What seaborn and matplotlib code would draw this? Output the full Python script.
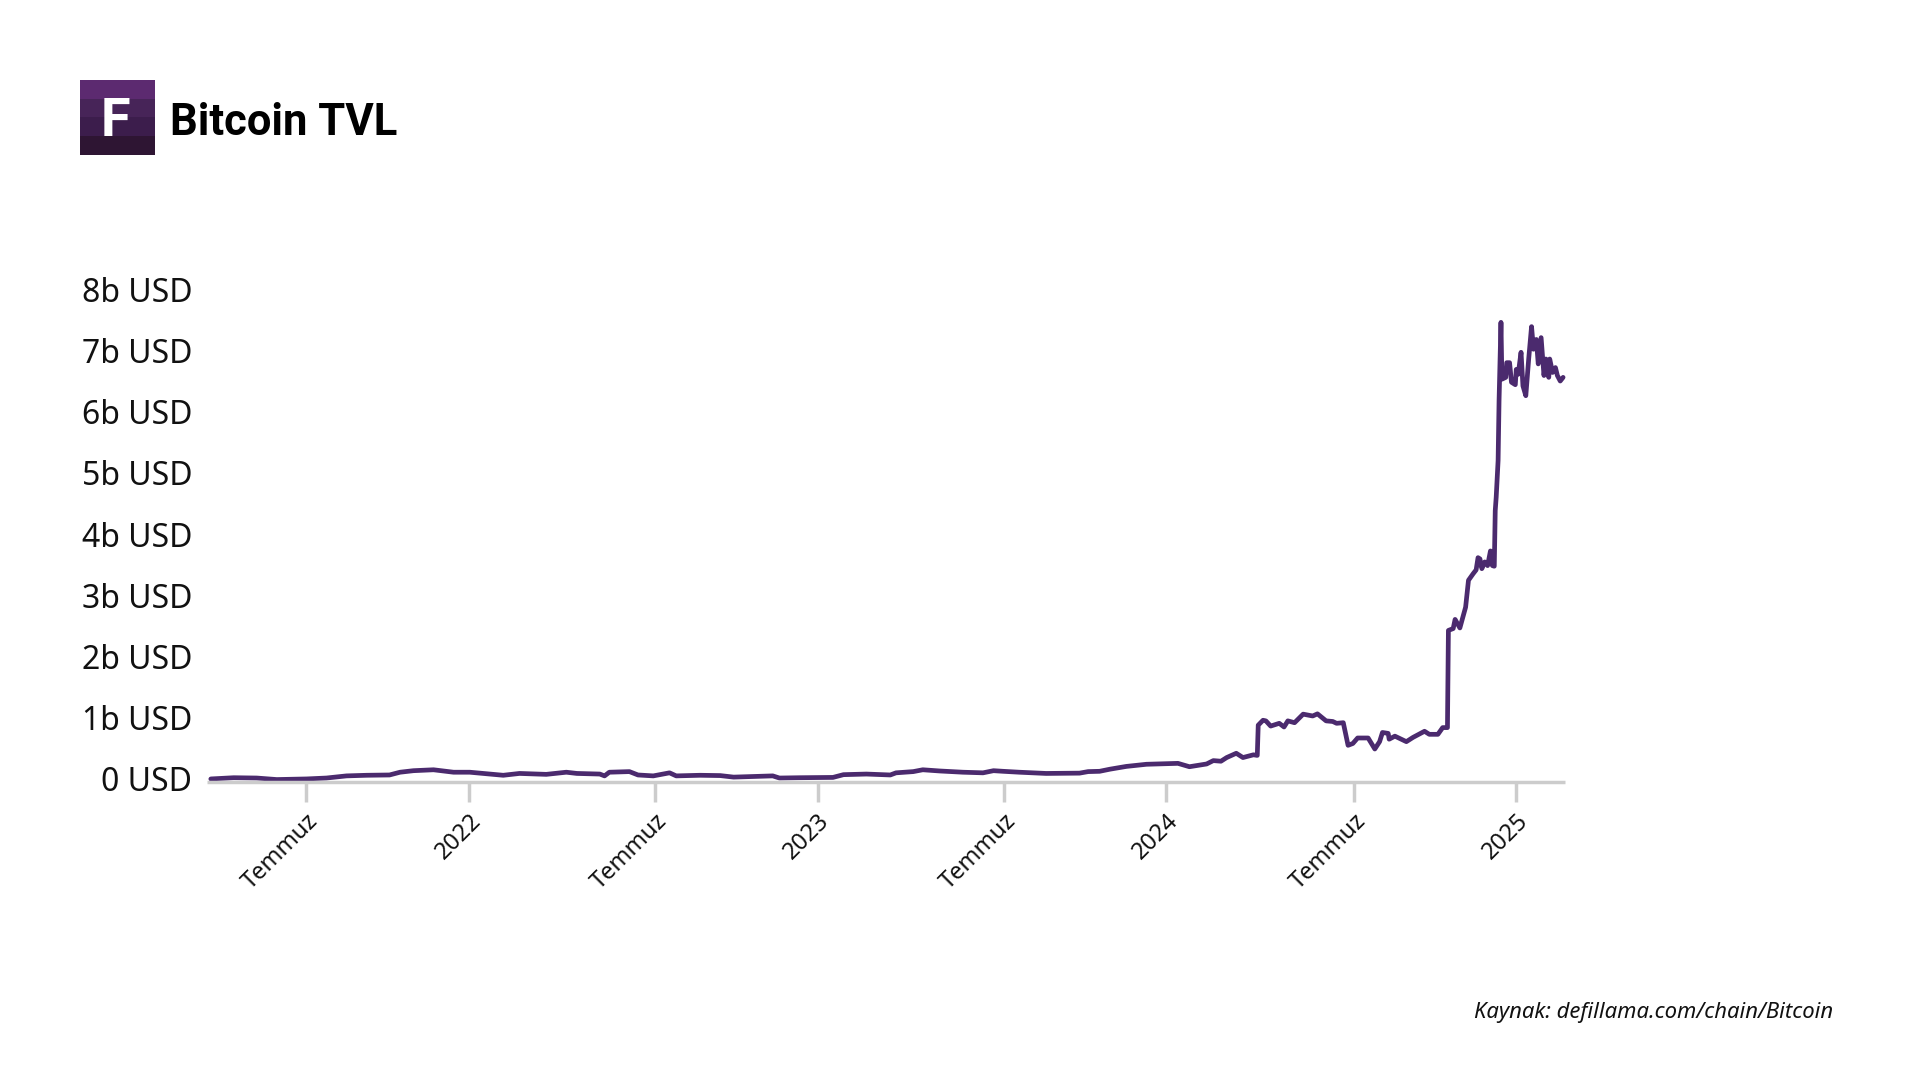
import matplotlib
matplotlib.use("Agg")
import matplotlib.pyplot as plt
from matplotlib.patches import Rectangle
from matplotlib.transforms import ScaledTranslation
import pandas as pd
import seaborn as sns

# days since 2021-04-02
days = [4,28,52,73,104,125,146,167,191,202,216,237,258,275,296,310,327,345,355,376,387,411,416,421,442,451,467,484,491,516,
        537,551,592,599,620,655,666,690,715,721,739,749,767,791,812,823,833,850,878,913,922,934,945,962,983,1016,1028,1046,
        1053,1061,1067,1077,1084,1095,1099,1100,1105,1108,1113,1122,1127,1131,1138,1147,1157,1162,1171,1178,1182,1189,1194,
        1199,1204,1215,1222,1227,1230,1236,1237,1243,1255,1262,1274,1279,1288,1293,1298,1299,1304,1306,1311,1317,1320,1325,
        1328,1330,1332,1334,1337,1340,1343,1345,1347,1348,1349,1351,1352,1354,1355,1359,1360,1363,1365,1369,1370,1372,1375,
        1377,1380,1383,1386,1388,1391,1393,1396,1399,1401,1404,1405,1408,1411,1413,1416,1419]
tvl_b = [.05,.07,.065,.04,.05,.065,.10,.11,.115,.16,.185,.20,.16,.16,.13,.11,.14,.13,.125,.16,.14,.13,.10,.16,.17,.115,.10,.15,.10,.11,
         .105,.08,.10,.065,.07,.075,.12,.13,.115,.15,.17,.20,.18,.16,.15,.185,.175,.16,.14,.145,.17,.175,.21,.255,.29,.305,.25,.295,
         .35,.34,.40,.47,.40,.445,.435,.93,1.01,1.0,.915,.96,.90,1.0,.97,1.11,1.08,1.115,1.0,.99,.96,.97,.60,
         .63,.72,.72,.54,.66,.81,.795,.70,.75,.66,.73,.83,.78,.78,.89,.89,2.48,2.51,2.66,2.52,2.86,3.30,3.41,
         3.47,3.67,3.65,3.49,3.60,3.54,3.78,3.54,3.53,4.44,4.66,5.26,6.24,7.52,6.59,6.62,6.86,6.86,6.54,6.50,6.75,6.67,7.03,
         6.48,6.32,6.92,7.45,7.08,7.24,6.84,7.27,6.65,6.92,6.62,6.92,6.70,6.78,6.65,6.56,6.62]
start_date = pd.Timestamp("2021-04-02")
end_date = pd.Timestamp("2025-02-21")
tick_dates = ["2021-07-15","2022-01-01","2022-07-15","2023-01-01","2023-07-15","2024-01-01","2024-07-15","2025-01-01"]
tick_labels = ["Temmuz","2022","Temmuz","2023","Temmuz","2024","Temmuz","2025"]
y_ticks = list(range(9))
y_labels = ["0 USD"] + [f"{v}b USD" for v in y_ticks[1:]]
logo_bands = ["#5c2a70","#472458","#3c1d4c","#2e1533"]
title = "Bitcoin TVL"
source = "Kaynak: defillama.com/chain/Bitcoin"

sns.set_theme(style="white")
plt.rcParams["font.family"] = ["Noto Sans", "DejaVu Sans"]
W, H = 1920, 1080
fig = plt.figure(figsize=(W/100, H/100), dpi=100, facecolor="white")
ax = fig.add_axes([207/W, 1-782/H, (1565-207)/W, (782-293)/H])
df = pd.DataFrame({"date": start_date + pd.to_timedelta(days, unit="D"), "tvl": tvl_b})
sns.lineplot(data=df, x="date", y="tvl", ax=ax, color="#4b2a6e", linewidth=3.4, solid_joinstyle="round", errorbar=None, estimator=None)
ax.set_xlim(start_date, end_date)
ax.set_ylim(0, 8)
ax.set_xlabel(""); ax.set_ylabel("")
for s in ["left","right","top"]:
    ax.spines[s].set_visible(False)
ax.spines["bottom"].set_color("#cccccc"); ax.spines["bottom"].set_linewidth(2.5); ax.spines["bottom"].set_capstyle("butt")
ax.set_yticks(y_ticks, y_labels)
ax.tick_params(axis="y", length=0, pad=10.5, labelsize=23, labelcolor="#111111")
for t in ax.get_yticklabels():
    t.set_transform(t.get_transform() + ScaledTranslation(0, 2.5/72, fig.dpi_scale_trans))
ax.set_xticks(pd.to_datetime(tick_dates), tick_labels)
ax.tick_params(axis="x", length=14.4, width=2.5, color="#cccccc", pad=5, labelsize=17, labelcolor="#111111", bottom=True)
for t in ax.get_xticklabels():
    t.set_rotation(45); t.set_ha("right"); t.set_va("top"); t.set_rotation_mode("anchor")
ax.patch.set_alpha(0)
for line in ax.get_lines():
    line.set_clip_on(False)

# logo
band_h = 75/4
for i, c in enumerate(logo_bands):
    fig.add_artist(Rectangle((80/W, 1-(80+band_h*(i+1))/H), 75/W, band_h/H, transform=fig.transFigure, color=c, lw=0))
fig.text(101/W, 1-136/H, "F", color="white", fontsize=39, fontweight="bold", family="Roboto", ha="left", va="baseline")
fig.text(170/W, 1-135/H, title, color="black", fontsize=31.4, fontweight="bold", family="Roboto", ha="left", va="baseline")
fig.text(1833/W, 1-1018/H, source, color="#111111", fontsize=15.9, style="italic", ha="right", va="baseline")
fig.savefig("out.png", dpi=100)
